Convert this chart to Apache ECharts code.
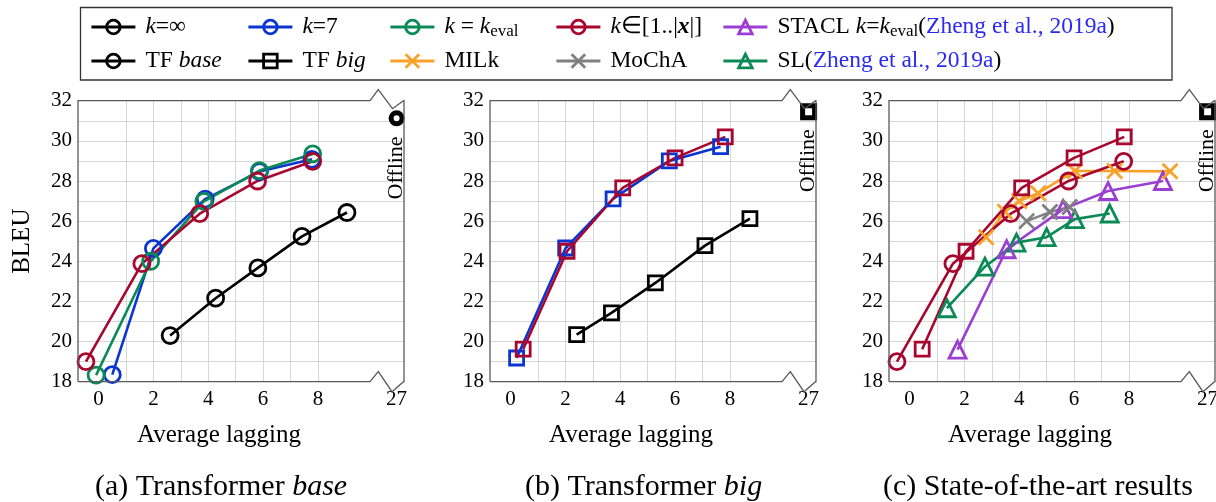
<!DOCTYPE html>
<html>
<head>
<meta charset="utf-8">
<script src="https://cdn.jsdelivr.net/npm/echarts@6/dist/echarts.min.js"></script>
<style>
html, body { margin: 0; padding: 0; background: #fff; }
#chart { width: 1216px; height: 502px; }
</style>
</head>
<body>
<div id="chart"></div>
<script>
// (a) Transformer base
var alBaseKinf = [2.61, 4.27, 5.81, 7.42, 9.06];
var bleuBaseKinf = [20.3, 22.16, 23.67, 25.24, 26.43];
var alBaseK7 = [0.5, 2.0, 3.89, 5.87, 7.78];
var bleuBaseK7 = [18.35, 24.64, 27.1, 28.47, 29.08];
var alBaseKeval = [-0.09, 1.9, 3.84, 5.87, 7.81];
var bleuBaseKeval = [18.33, 24.0, 26.98, 28.52, 29.35];
var alBaseKall = [-0.46, 1.58, 3.69, 5.8, 7.81];
var bleuBaseKall = [19.0, 23.88, 26.37, 28.0, 28.98];

// (b) Transformer big
var alBigKinf = [2.41, 3.68, 5.28, 7.09, 8.73];
var bleuBigKinf = [20.35, 21.43, 22.92, 24.78, 26.12];
var alBigK7 = [0.22, 2.01, 3.74, 5.79, 7.66];
var bleuBigK7 = [19.18, 24.66, 27.11, 29.0, 29.71];
var alBigKall = [0.46, 2.06, 4.09, 6.0, 7.83];
var bleuBigKall = [19.62, 24.5, 27.66, 29.15, 30.2];

// offline models
var offlineAL = [27];
var offlineBaseBleu = [31.12];
var offlineBigBleu = [31.45];

// (c) state of the art
var alMilk = [2.79, 3.48, 4.0, 4.69, 6.03, 7.48, 9.5];
var bleuMilk = [25.2, 26.47, 27.0, 27.39, 28.5, 28.5, 28.48];
var alMocha = [4.27, 5.12, 5.84];
var bleuMocha = [26.0, 26.45, 26.7];
var alStacl = [1.75, 3.54, 5.6, 7.24, 9.24];
var bleuStacl = [19.6, 24.6, 26.6, 27.5, 28.0];
var alSl = [1.36, 2.75, 3.9, 5.0, 6.03, 7.3];
var bleuSl = [21.66, 23.73, 24.93, 25.2, 26.1, 26.38];

// axis ticks
var xTicks = [0, 1, 2, 3, 4, 5, 6, 7, 8, 9];
var xLabels = [0, 2, 4, 6, 8];
var offlineTicks = [27];

var FONT = 'Liberation Serif';
var C = {
    black: '#000000', blue: '#0a35d0', green: '#0b8a58', red: '#a8062f',
    purple: '#9a3fd1', orange: '#f9a128', grey: '#808080'
};
var X_PATH = 'path://M0,0L10,10M10,0L0,10';
var GRID_COLOR = '#d6d6d6';
var BORDER_COLOR = '#5a5a5a';

// layout
var PANEL_LEFT = [78, 490, 889];
var MAIN_W = 292, OFF_W = 34, TOP = 100.7, H = 281;

// marker sizes
var CIRC = 16, SQR = 14, TRI = 17, CROSS = 15;

function pts(xs, ys) {
    return xs.map(function (x, i) { return [x, ys[i]]; });
}

function lineSeries(name, grid, data, color, symbol, size) {
    return {
        type: 'line', name: name,
        xAxisIndex: grid, yAxisIndex: grid,
        data: data,
        symbol: symbol, symbolSize: size,
        lineStyle: { color: color, width: 2.6 },
        itemStyle: { color: 'transparent', borderColor: color, borderWidth: 2.8 },
        emphasis: { disabled: true },
        animation: false
    };
}

function offlineSeries(name, grid, data, symbol, size, dx) {
    return {
        type: 'line', name: name,
        xAxisIndex: grid, yAxisIndex: grid,
        data: data,
        symbol: symbol, symbolSize: size,
        lineStyle: { color: '#000', width: 2.6 },
        itemStyle: { color: 'transparent', borderColor: '#000', borderWidth: 5 },
        label: {
            show: true, formatter: 'Offline', position: 'bottom', distance: 6,
            rotate: 90, align: 'right', verticalAlign: 'middle', offset: [dx, 0],
            fontFamily: FONT, fontSize: 22, color: '#000'
        },
        emphasis: { disabled: true },
        animation: false
    };
}

var grids = [], xAxes = [], yAxes = [];
PANEL_LEFT.forEach(function (left, p) {
    grids.push({ left: left, top: TOP, width: MAIN_W, height: H, containLabel: false, outerBoundsMode: 'none' });
    grids.push({ left: left + MAIN_W, top: TOP, width: OFF_W, height: H, containLabel: false, outerBoundsMode: 'none' });
    xAxes.push({
        gridIndex: 2 * p, type: 'value', min: -0.75, max: 9.9,
        axisLine: { show: false },
        axisTick: { show: false, customValues: xTicks },
        axisLabel: { customValues: xLabels, fontFamily: FONT, fontSize: 21, color: '#000', margin: 7 },
        splitLine: { show: true, showMinLine: false, showMaxLine: false, lineStyle: { color: GRID_COLOR, width: 1 } },
        name: 'Average lagging', nameLocation: 'middle', nameGap: 41,
        nameTextStyle: { fontFamily: FONT, fontSize: 25, color: '#000', padding: [0, 10, 0, 0] }
    });
    xAxes.push({
        gridIndex: 2 * p + 1, type: 'value', min: 26.03, max: 27.27,
        axisLine: { show: false },
        axisTick: { show: false, customValues: offlineTicks },
        axisLabel: { customValues: offlineTicks, fontFamily: FONT, fontSize: 21, color: '#000', margin: 7 },
        splitLine: { show: true, showMinLine: false, showMaxLine: false, lineStyle: { color: GRID_COLOR, width: 1 } }
    });
    yAxes.push({
        gridIndex: 2 * p, type: 'value', min: 18, max: 32, interval: 1,
        axisLine: { show: false }, axisTick: { show: false },
        axisLabel: {
            formatter: function (v) { return v % 2 === 0 ? String(v) : ''; },
            fontFamily: FONT, fontSize: 21, color: '#000', margin: 6
        },
        splitLine: { show: true, showMinLine: false, showMaxLine: false, lineStyle: { color: GRID_COLOR, width: 1 } },
        name: p === 0 ? 'BLEU' : '', nameLocation: 'middle', nameGap: 43,
        nameTextStyle: { fontFamily: FONT, fontSize: 25, color: '#000' }
    });
    yAxes.push({
        gridIndex: 2 * p + 1, type: 'value', min: 18, max: 32, interval: 1,
        axisLine: { show: false }, axisTick: { show: false }, axisLabel: { show: false },
        splitLine: { show: true, showMinLine: false, showMaxLine: false, lineStyle: { color: GRID_COLOR, width: 1 } }
    });
});

var series = [
    // (a)
    lineSeries('kinf', 0, pts(alBaseKinf, bleuBaseKinf), C.black, 'circle', CIRC),
    lineSeries('k7', 0, pts(alBaseK7, bleuBaseK7), C.blue, 'circle', CIRC),
    lineSeries('keval', 0, pts(alBaseKeval, bleuBaseKeval), C.green, 'circle', CIRC),
    lineSeries('kall', 0, pts(alBaseKall, bleuBaseKall), C.red, 'circle', CIRC),
    lineSeries('tfbase', 0, [], C.black, 'circle', CIRC),
    lineSeries('tfbig', 0, [], C.black, 'rect', SQR),
    offlineSeries('offlineBase', 1, pts(offlineAL, offlineBaseBleu), 'circle', 11, -4),
    // (b)
    lineSeries('kinf', 2, pts(alBigKinf, bleuBigKinf), C.black, 'rect', SQR),
    lineSeries('k7', 2, pts(alBigK7, bleuBigK7), C.blue, 'rect', SQR),
    lineSeries('kall', 2, pts(alBigKall, bleuBigKall), C.red, 'rect', SQR),
    offlineSeries('offlineBig', 3, pts(offlineAL, offlineBigBleu), 'rect', 12, -3),
    // (c)
    lineSeries('sl', 4, pts(alSl, bleuSl), C.green, 'triangle', TRI),
    lineSeries('stacl', 4, pts(alStacl, bleuStacl), C.purple, 'triangle', TRI),
    lineSeries('mocha', 4, pts(alMocha, bleuMocha), C.grey, X_PATH, CROSS),
    lineSeries('milk', 4, pts(alMilk, bleuMilk), C.orange, X_PATH, CROSS),
    lineSeries('kall', 4, pts(alBaseKall, bleuBaseKall), C.red, 'circle', CIRC),
    lineSeries('kall', 4, pts(alBigKall, bleuBigKall), C.red, 'rect', SQR),
    offlineSeries('offlineBig', 5, pts(offlineAL, offlineBigBleu), 'rect', 12, -3)
];

var LEGEND_TEXT = {
    kinf: '{i|k}=∞',
    tfbase: 'TF {i|base}',
    k7: '{i|k}=7',
    tfbig: 'TF {i|big}',
    keval: '{i|k} = {i|k}{s|eval}',
    milk: 'MILk',
    kall: '{i|k}∈[1..|{b|x}|]',
    mocha: 'MoChA',
    stacl: 'STACL {i|k}={i|k}{s|eval}({c|Zheng et al., 2019a})',
    sl: 'SL({c|Zheng et al., 2019a})'
};
var legendCols = [['kinf', 'tfbase'], ['k7', 'tfbig'], ['keval', 'milk'], ['kall', 'mocha'], ['stacl', 'sl']];
var legendLeft = [90, 247, 389, 555, 722];

var LS = 23.5, LH = 26;
var legends = legendCols.map(function (names, i) {
    return {
        data: names, left: legendLeft[i], top: 14, orient: 'vertical',
        padding: 0, itemGap: 8, itemWidth: 44, itemHeight: 17,
        selectedMode: false,
        lineStyle: { width: 2.8 },
        itemStyle: { borderWidth: 2.8 },
        formatter: function (n) { return LEGEND_TEXT[n]; },
        textStyle: {
            fontFamily: FONT, fontSize: LS, color: '#000', lineHeight: LH, padding: [0, 0, 0, 5],
            rich: {
                i: { fontFamily: FONT, fontSize: LS, fontStyle: 'italic', lineHeight: LH },
                b: { fontFamily: FONT, fontSize: LS, fontStyle: 'italic', fontWeight: 'bold', lineHeight: LH },
                s: { fontFamily: FONT, fontSize: 17, lineHeight: LH, verticalAlign: 'bottom' },
                c: { fontFamily: FONT, fontSize: LS, color: '#2a2af2', lineHeight: LH }
            }
        }
    };
});

var CAP = 30;
var capStyle = {
    fontFamily: FONT, fontSize: CAP, fontWeight: 'normal', color: '#000',
    rich: { i: { fontFamily: FONT, fontSize: CAP, fontStyle: 'italic', color: '#000' } }
};
var titles = [
    { text: '(a) Transformer {i|base}', left: 95, top: 472, padding: 0, textStyle: capStyle },
    { text: '(b) Transformer {i|big}', left: 525, top: 472, padding: 0, textStyle: capStyle },
    { text: '(c) State-of-the-art results', left: 883, top: 472, padding: 0, textStyle: capStyle }
];

// frame of each panel with the axis break marks
var graphics = [{
    type: 'rect', z: 10, silent: true,
    shape: { x: 80.5, y: 7.5, width: 1091.5, height: 72.5 },
    style: { fill: 'none', stroke: '#333', lineWidth: 1.3 }
}];
PANEL_LEFT.forEach(function (L) {
    var B = L + MAIN_W, R = B + OFF_W, T = TOP, D = TOP + H;
    graphics.push({
        type: 'polyline', z: 10, silent: true,
        shape: {
            points: [
                [L, D], [L, T], [B, T], [B + 8.3, T - 11], [B + 22.5, T + 8], [B + 33.5, T], [R, T],
                [R, D], [B + 33.5, D], [B + 22, D + 10], [B + 8.3, D - 10], [B, D], [L, D]
            ]
        },
        style: { fill: 'none', stroke: BORDER_COLOR, lineWidth: 1.3 }
    });
});

var chart = echarts.init(document.getElementById('chart'));
chart.setOption({
    backgroundColor: '#fff',
    animation: false,
    title: titles,
    legend: legends,
    grid: grids,
    xAxis: xAxes,
    yAxis: yAxes,
    series: series,
    graphic: graphics
});
</script>
</body>
</html>
